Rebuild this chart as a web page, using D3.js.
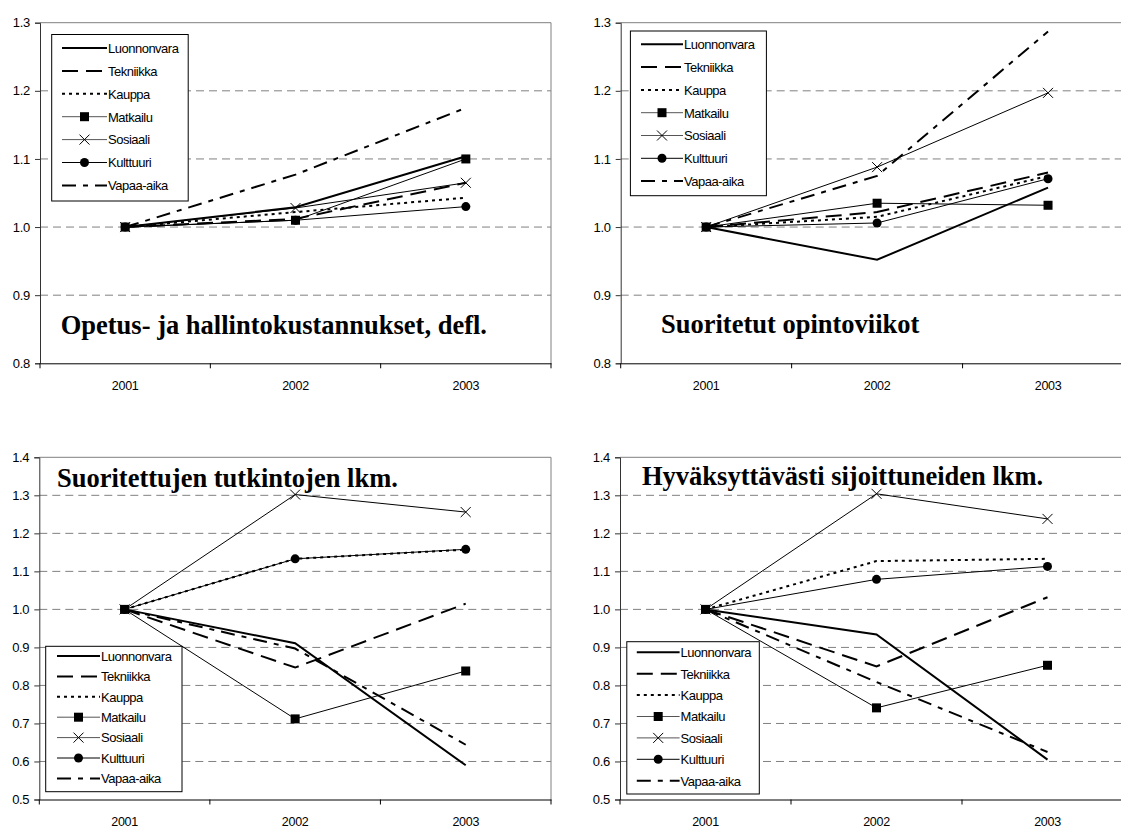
<!DOCTYPE html>
<html>
<head>
<meta charset="utf-8">
<script src="https://cdn.jsdelivr.net/npm/d3@7"></script>
<style>
  body { margin: 0; background: #fff; }
  svg { display: block; }
  .sans { font-family: "Liberation Sans", Arial, sans-serif; }
  .title { font-family: "Liberation Serif", "Times New Roman", serif; font-weight: bold; }
</style>
</head>
<body>
<svg width="1121" height="828"></svg>
<script>
// data
var years = ["2001", "2002", "2003"];
var seriesNames = ["Luonnonvara", "Tekniikka", "Kauppa", "Matkailu", "Sosiaali", "Kulttuuri", "Vapaa-aika"];
var panelTitles = [
    "Opetus- ja hallintokustannukset, defl.",
    "Suoritetut opintoviikot",
    "Suoritettujen tutkintojen lkm.",
    "Hyväksyttävästi sijoittuneiden lkm."
];
var ticksTop = [0.8, 0.9, 1.0, 1.1, 1.2, 1.3];
var ticksBottom = [0.5, 0.6, 0.7, 0.8, 0.9, 1.0, 1.1, 1.2, 1.3, 1.4];

// one row per series, one value per year
var opetusValues = [
    [1, 1.029, 1.104],
    [1, 1.012, 1.065],
    [1, 1.022, 1.043],
    [1, 1.010, 1.100],
    [1, 1.028, 1.065],
    [1, 1.010, 1.030],
    [1, 1.077, 1.175]
];
var opintoviikotValues = [
    [1, 0.952, 1.058],
    [1, 1.022, 1.080],
    [1, 1.015, 1.075],
    [1, 1.035, 1.032],
    [1, 1.088, 1.197],
    [1, 1.006, 1.071],
    [1, 1.075, 1.287]
];
var tutkinnotValues = [
    [1, 0.911, 0.590],
    [1, 0.847, 1.015],
    [1, 1.133, 1.157],
    [1, 0.712, 0.838],
    [1, 1.302, 1.256],
    [1, 1.133, 1.158],
    [1, 0.897, 0.644]
];
var sijoittuneetValues = [
    [1, 0.934, 0.605],
    [1, 0.850, 1.032],
    [1, 1.127, 1.133],
    [1, 0.741, 0.853],
    [1, 1.304, 1.238],
    [1, 1.079, 1.113],
    [1, 0.809, 0.625]
];

// line look per series
var styles = [
    { w: 2, dash: null, marker: null },
    { w: 2, dash: "16,8", marker: null },
    { w: 2, dash: "3,4", marker: null },
    { w: 1, dash: null, marker: "square" },
    { w: 1, dash: null, marker: "cross" },
    { w: 1, dash: null, marker: "circle" },
    { w: 2, dash: "14,7,5,7", marker: null }
];

var svg = d3.select("svg");

var panels = [
    { values: opetusValues, title: panelTitles[0], ticks: ticksTop,
      left: 40, right: 551, top: 22.7, bottom: 363.3, border: true,
      titleX: 60.7, titleY: 334,
      legend: { x: 51.7, y: 34.5, w: 136.5, h: 166.5, row0: 48, step: 22.9, l0: 62, l1: 107 } },
    { values: opintoviikotValues, title: panelTitles[1], ticks: ticksTop,
      left: 620.7, right: 1133.5, top: 22.7, bottom: 363.3, border: false,
      titleX: 661, titleY: 333,
      legend: { x: 630.4, y: 31, w: 136, h: 164.7, row0: 44.3, step: 22.8, l0: 641, l1: 683 } },
    { values: tutkinnotValues, title: panelTitles[2], ticks: ticksBottom,
      left: 39.3, right: 551, top: 457.3, bottom: 799.5, border: true,
      titleX: 57, titleY: 487,
      legend: { x: 45.7, y: 646.3, w: 136.3, h: 145.4, row0: 656, step: 20.4, l0: 57, l1: 100 } },
    { values: sijoittuneetValues, title: panelTitles[3], ticks: ticksBottom,
      left: 620, right: 1133, top: 457.3, bottom: 799.5, border: false,
      titleX: 642, titleY: 485,
      legend: { x: 626.8, y: 641.7, w: 132.5, h: 152.3, row0: 652.3, step: 21.4, l0: 636.8, l1: 679.6 } }
];

function drawMarker(g, kind, x, y) {
    if (kind === "square") {
        g.append("rect").attr("x", x - 4.5).attr("y", y - 4.5)
            .attr("width", 9).attr("height", 9).attr("fill", "#000");
    } else if (kind === "circle") {
        g.append("circle").attr("cx", x).attr("cy", y).attr("r", 4.5).attr("fill", "#000");
    } else if (kind === "cross") {
        g.append("path")
            .attr("d", `M${x - 5},${y - 5}L${x + 5},${y + 5}M${x - 5},${y + 5}L${x + 5},${y - 5}`)
            .attr("stroke", "#000").attr("stroke-width", 1).attr("fill", "none");
    }
}

function drawPanel(p) {
    var x = d3.scaleBand().domain(years).range([p.left, p.right]).padding(0);
    var y = d3.scaleLinear().domain(d3.extent(p.ticks)).range([p.bottom, p.top]);
    var g = svg.append("g").attr("class", "sans");

    // dashed gridlines (not on the top or bottom edge)
    g.selectAll(".grid").data(p.ticks.slice(1, -1)).enter().append("line")
        .attr("x1", p.left).attr("x2", p.right)
        .attr("y1", d => y(d)).attr("y2", d => y(d))
        .attr("stroke", "#808080").attr("stroke-dasharray", "8,5");

    // plot frame: top and right edges
    g.append("line").attr("x1", p.left).attr("x2", p.right)
        .attr("y1", p.top).attr("y2", p.top).attr("stroke", "#808080");
    if (p.border) {
        g.append("line").attr("x1", p.right).attr("x2", p.right)
            .attr("y1", p.top).attr("y2", p.bottom).attr("stroke", "#808080");
    }

    // y axis
    var ya = g.append("g").attr("transform", `translate(${p.left},0)`)
        .call(d3.axisLeft(y).tickValues(p.ticks).tickFormat(d3.format(".1f")).tickSize(5).tickPadding(5));
    ya.attr("font-family", null).attr("font-size", null);
    ya.select(".domain").attr("stroke", "#333");
    ya.selectAll("line").attr("stroke", "#333");
    ya.selectAll("text").style("font-size", "13px").style("letter-spacing", "-0.3px").attr("fill", "#000");

    // x axis with labels at category centres and ticks on the boundaries
    var xa = g.append("g").attr("transform", `translate(0,${p.bottom})`)
        .call(d3.axisBottom(x).tickSize(0).tickPadding(18));
    xa.attr("font-family", null).attr("font-size", null);
    xa.select(".domain").attr("stroke", "#000");
    xa.selectAll("text").style("font-size", "12.5px").style("letter-spacing", "-0.3px").attr("fill", "#000");
    var bounds = years.map(d => x(d)).concat([x(years[years.length - 1]) + x.bandwidth()]);
    g.selectAll(".xtick").data(bounds).enter().append("line")
        .attr("x1", d => d).attr("x2", d => d)
        .attr("y1", p.bottom).attr("y2", p.bottom + 5).attr("stroke", "#000");

    // title
    g.append("text").attr("class", "title").attr("x", p.titleX).attr("y", p.titleY)
        .style("font-size", "26.5px").text(p.title);

    // series
    var line = d3.line().x((d, i) => x(years[i]) + x.bandwidth() / 2).y(d => y(d));
    p.values.forEach(function (vals, si) {
        var st = styles[si];
        g.append("path").datum(vals).attr("d", line)
            .attr("fill", "none").attr("stroke", "#000")
            .attr("stroke-width", st.w)
            .attr("stroke-dasharray", st.dash);
        if (st.marker) {
            vals.forEach(function (v, i) {
                drawMarker(g, st.marker, x(years[i]) + x.bandwidth() / 2, y(v));
            });
        }
    });

    // legend
    var L = p.legend;
    var lg = g.append("g");
    lg.append("rect").attr("x", L.x).attr("y", L.y).attr("width", L.w).attr("height", L.h)
        .attr("fill", "#fff").attr("stroke", "#000");
    seriesNames.forEach(function (name, si) {
        var st = styles[si];
        var ry = L.row0 + si * L.step;
        lg.append("line").attr("x1", L.l0).attr("x2", L.l1).attr("y1", ry).attr("y2", ry)
            .attr("stroke", si >= 3 && si <= 4 ? "#555" : "#000").attr("stroke-width", st.w)
            .attr("stroke-dasharray", st.dash);
        if (st.marker) drawMarker(lg, st.marker, (L.l0 + L.l1) / 2, ry);
        lg.append("text").attr("x", L.l1 + 1).attr("y", ry + 4.8)
            .style("font-size", "13px").style("letter-spacing", "-0.5px").text(name);
    });
}

panels.forEach(drawPanel);
</script>
</body>
</html>
